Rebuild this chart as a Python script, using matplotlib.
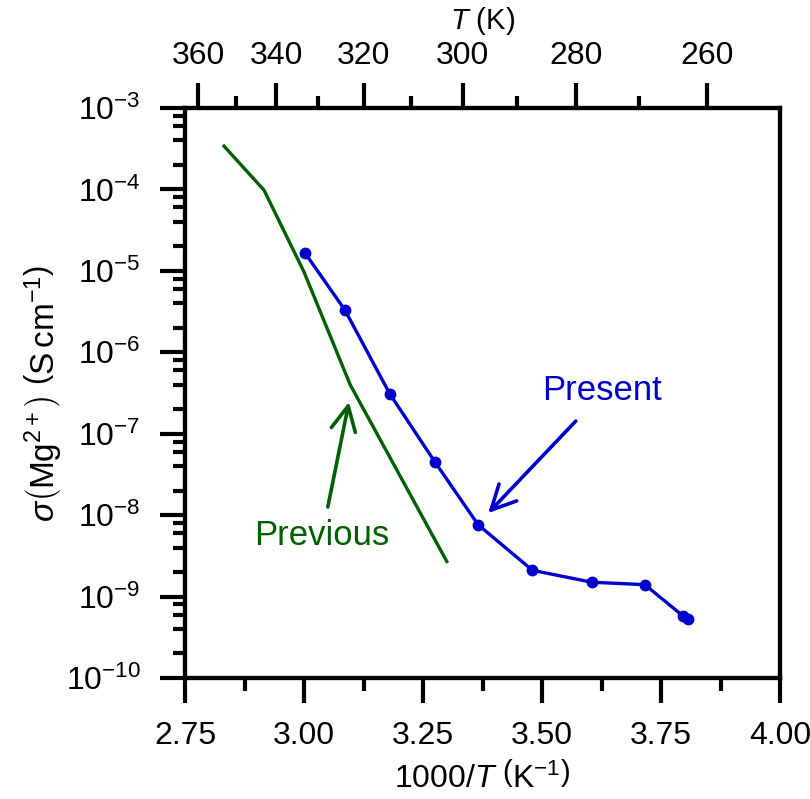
import matplotlib.pyplot as plt
import matplotlib.ticker as mticker

plt.rcParams['font.family'] = ['Liberation Sans', 'DejaVu Sans']
plt.rcParams['mathtext.fontset'] = 'custom'
plt.rcParams['mathtext.rm'] = 'Liberation Sans'
plt.rcParams['mathtext.it'] = 'Liberation Sans:italic'
plt.rcParams['mathtext.bf'] = 'Liberation Sans:bold'

# Present work (1000/T, sigma)
present_x = [3.002, 3.086, 3.180, 3.275, 3.366, 3.480, 3.605, 3.716, 3.796, 3.807]
present_y = [1.66e-5, 3.3e-6, 3.1e-7, 4.5e-8, 7.6e-9, 2.1e-9, 1.5e-9, 1.4e-9, 5.8e-10, 5.3e-10]

# Previous work
prev_x = [2.832, 2.916, 3.000, 3.097, 3.300]
prev_y = [3.4e-4, 9.8e-5, 9.7e-6, 4.0e-7, 2.7e-9]

# top axis temperatures (K)
T_major = [360, 340, 320, 300, 280, 260]
T_minor = [350, 330, 310, 290, 270]

x_ticks = [2.75, 3.00, 3.25, 3.50, 3.75, 4.00]

blue = '#0000cc'
green = '#005f00'
lw_ax = 3.0
fs = 23

fig = plt.figure(figsize=(8.1, 7.99), dpi=100)
ax = fig.add_axes([185/810, 121/799, 595/810, 570/799])

ax.plot(prev_x, prev_y, color=green, lw=2.4)
ax.plot(present_x, present_y, color=blue, lw=2.4, marker='o', ms=7.5)

ax.set_yscale('log')
ax.set_xlim(2.75, 4.00)
ax.set_ylim(1e-10, 1e-3)
ax.set_xticks(x_ticks)
ax.set_xticklabels([f'{v:.2f}' for v in x_ticks])
ax.xaxis.set_minor_locator(mticker.MultipleLocator(0.125))
ax.yaxis.set_major_locator(mticker.LogLocator(base=10, numticks=20))
ax.yaxis.set_minor_locator(mticker.LogLocator(base=10, subs=[2, 4, 6, 8], numticks=20))
ax.yaxis.set_minor_formatter(mticker.NullFormatter())

for s in ax.spines.values():
    s.set_linewidth(lw_ax)
ax.tick_params(which='major', direction='out', length=18, width=lw_ax, labelsize=fs, pad=13)
ax.tick_params(which='minor', direction='out', length=9, width=lw_ax)
ax.tick_params(axis='y', which='major', pad=14)

ax.set_xlabel(r'$1000/T\ \left(\mathrm{K}^{-1}\right)$', fontsize=23, labelpad=8)
ax.set_ylabel(r'$\sigma\left(\mathrm{Mg}^{2+}\right)\ \left(\mathrm{S\,cm}^{-1}\right)$',
              fontsize=24, labelpad=2)

# top axis in T
ax2 = ax.twiny()
ax2.set_xlim(ax.get_xlim())
ax2.set_xticks([1000/t for t in T_major])
ax2.set_xticklabels([str(t) for t in T_major])
ax2.set_xticks([1000/t for t in T_minor], minor=True)
ax2.tick_params(which='major', direction='out', length=18, width=lw_ax, labelsize=fs, pad=9)
ax2.tick_params(which='minor', direction='out', length=9, width=lw_ax)
ax2.set_xlabel(r'$T$ (K)', fontsize=21, labelpad=8)
for s in ax2.spines.values():
    s.set_linewidth(lw_ax)

# annotations
arrow = '->,head_length=0.8,head_width=0.4'
ax.annotate('', xy=(3.387, 1.06e-8), xytext=(3.571, 1.43e-7),
            arrowprops=dict(arrowstyle=arrow, mutation_scale=22,
                            color=blue, lw=2.6, shrinkA=0, shrinkB=0))
ax.text(3.626, 3.35e-7, 'Present', fontsize=25, color=blue, ha='center', va='center')
ax.annotate('', xy=(3.0945, 2.45e-7), xytext=(3.050, 1.26e-8),
            arrowprops=dict(arrowstyle=arrow, mutation_scale=22,
                            color=green, lw=2.6, shrinkA=0, shrinkB=0))
ax.text(3.038, 5.7e-9, 'Previous', fontsize=25, color=green, ha='center', va='center')

fig.savefig('out.png', dpi=100)
